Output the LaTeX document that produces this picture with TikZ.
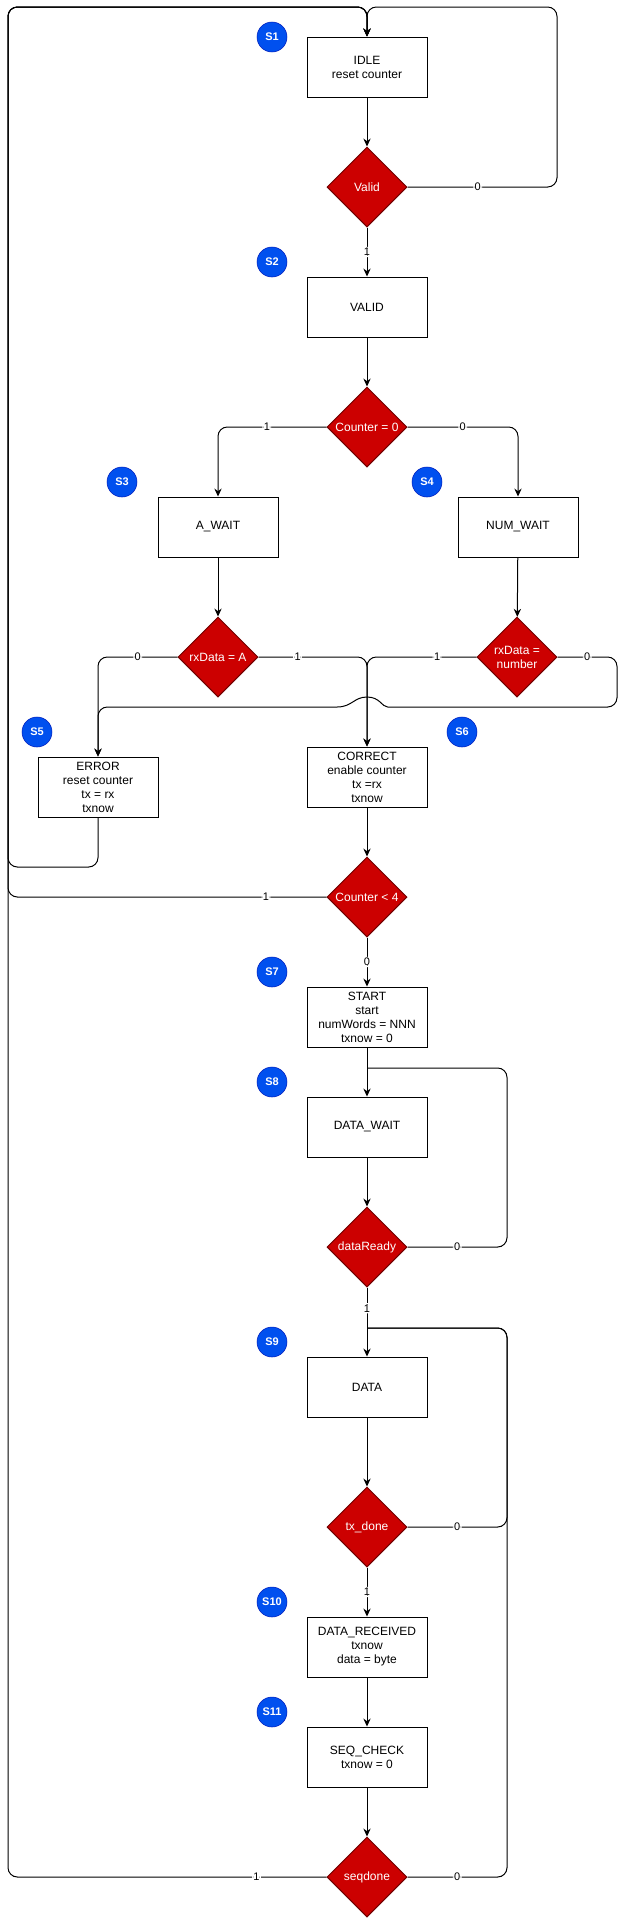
\documentclass[tikz,border=0pt]{standalone}
\usepackage{fontspec}
\setmainfont{Liberation Sans}
\usepackage{tikz}
\usetikzlibrary{shapes.geometric, arrows.meta}
\definecolor{decred}{HTML}{CC0000}
\definecolor{decedge}{HTML}{6F0000}
\definecolor{tagblue}{HTML}{0050EF}
\definecolor{tagedge}{HTML}{001DBC}
\tikzset{
    statebox/.style={draw=black, line width=0.75pt, minimum width=90pt, minimum height=45pt,
        align=center, inner sep=1pt, font=\fontsize{9}{10.5}\selectfont},
    decision/.style={shape=diamond, draw=decedge, fill=decred, text=white, line width=0.75pt,
        minimum width=60pt, minimum height=60pt, aspect=1, inner sep=0pt, align=center,
        font=\fontsize{9}{10.5}\selectfont},
    tag/.style={shape=circle, draw=tagedge, fill=tagblue, text=white, minimum size=22.5pt,
        inner sep=0pt, font=\bfseries\fontsize{8.25}{9}\selectfont},
    flow/.style={-{Stealth[length=6pt,width=5.5pt,inset=2pt]}, line width=0.75pt, rounded corners=7pt},
    wire/.style={line width=0.75pt, rounded corners=7pt},
    lbl/.style={fill=white, inner sep=1pt, font=\fontsize{8.25}{9}\selectfont}
}

\begin{document}
\begin{tikzpicture}[x=0.75pt, y=-0.75pt]
    \useasboundingbox (0,0) rectangle (627,1918);

    % states and decisions
    \node[statebox] (idle) at (367,67) {IDLE\\reset counter};
    \node[decision] (valid) at (367,187) {Valid};
    \node[statebox] (validst) at (367,307) {VALID};
    \node[decision] (cnt0) at (367,427) {Counter = 0};
    \node[statebox] (await) at (218,527) {A\_WAIT};
    \node[statebox] (numwait) at (518,527) {NUM\_WAIT};
    \node[decision] (rxa) at (218,657) {rxData = A};
    \node[decision] (rxn) at (517,657) {rxData =\\number};
    \node[statebox] (error) at (98,787) {ERROR\\reset counter\\tx = rx\\txnow};
    \node[statebox] (correct) at (367,777) {CORRECT\\enable counter\\tx =rx\\txnow};
    \node[decision] (cnt4) at (367,897) {Counter {\textless} 4};
    \node[statebox] (start) at (367,1017) {START\\start\\numWords = NNN\\txnow = 0};
    \node[statebox] (dwait) at (367,1127) {DATA\_WAIT};
    \node[decision] (dready) at (367,1247) {dataReady};
    \node[statebox] (data) at (367,1387) {DATA};
    \node[decision] (txdone) at (367,1527) {tx\_done};
    \node[statebox] (drecv) at (367,1647) {DATA\_RECEIVED\\txnow\\data = byte};
    \node[statebox] (seqchk) at (367,1757) {SEQ\_CHECK\\txnow = 0};
    \node[decision] (seqdone) at (367,1877) {seqdone};

    % state tags
    \node[tag] (s1) at (272,37) {S1};
    \node[tag] (s2) at (272,262) {S2};
    \node[tag] (s3) at (122,482) {S3};
    \node[tag] (s4) at (427,482) {S4};
    \node[tag] (s5) at (37,732) {S5};
    \node[tag] (s6) at (462,732) {S6};
    \node[tag] (s7) at (272,972) {S7};
    \node[tag] (s8) at (272,1082) {S8};
    \node[tag] (s9) at (272,1342) {S9};
    \node[tag] (s10) at (272,1602) {S10};
    \node[tag] (s11) at (272,1712) {S11};

    \coordinate (dwtap) at (367,1068);
    \coordinate (dtap) at (367,1328);

    % transitions
    \draw[flow] (idle) -- (valid);
    \draw[flow] (valid) -- (validst) node[lbl, midway] {1};
    \draw[flow] (valid.east) -- node[lbl, pos=0.47] {0} (557,187) -- (557,7) -- (367,7) -- (idle.north);
    \draw[flow] (validst) -- (cnt0);
    \draw[flow] (cnt0.west) -- node[lbl, pos=0.55] {1} (218,427) -- (await.north);
    \draw[flow] (cnt0.east) -- node[lbl] {0} (518,427) -- (numwait.north);
    \draw[flow] (await) -- (rxa);
    \draw[flow] (numwait) -- (rxn);
    \draw[flow] (rxa.west) -- node[lbl] {0} (98,657) -- (error.north);
    \draw[flow] (rxa.east) -- node[lbl, pos=0.36] {1} (367,657) -- (correct.north);
    \draw[flow] (rxn.west) -- node[lbl, pos=0.36] {1} (367,657) -- (correct.north);
    \draw[flow] (rxn.east) -- node[lbl] {0} (617,657) -- (617,707) -- (397,707)
        [sharp corners] .. controls (382,707) and (380,697) .. (367,697)
        .. controls (354,697) and (352,707) .. (337,707) [rounded corners=7pt] -- (98,707) -- (error.north);
    \draw[flow] (error.south) -- (98,867) -- (8,867) -- (8,7) -- (367,7) -- (idle.north);
    \draw[flow] (correct) -- (cnt4);
    \draw[flow] (cnt4.west) -- node[lbl, pos=0.19] {1} (8,897) -- (8,7) -- (367,7) -- (idle.north);
    \draw[flow] (cnt4) -- (start) node[lbl, midway] {0};
    \draw[flow] (start) -- (dwait);
    \draw[flow] (dwait) -- (dready);
    \draw[wire] (dready.east) -- node[lbl] {0} (507,1247) -- (507,1068) -- (dwtap);
    \draw[flow] (dready) -- (data) node[lbl, pos=0.3] {1};
    \draw[flow] (data) -- (txdone);
    \draw[wire] (txdone.east) -- node[lbl] {0} (507,1527) -- (507,1328) -- (dtap);
    \draw[flow] (txdone) -- (drecv) node[lbl, midway] {1};
    \draw[flow] (drecv) -- (seqchk);
    \draw[flow] (seqchk) -- (seqdone);
    \draw[flow] (seqdone.west) -- node[lbl, pos=0.22] {1} (8,1877) -- (8,7) -- (367,7) -- (idle.north);
    \draw[wire] (seqdone.east) -- node[lbl] {0} (507,1877) -- (507,1328) -- (dtap);
\end{tikzpicture}
\end{document}
